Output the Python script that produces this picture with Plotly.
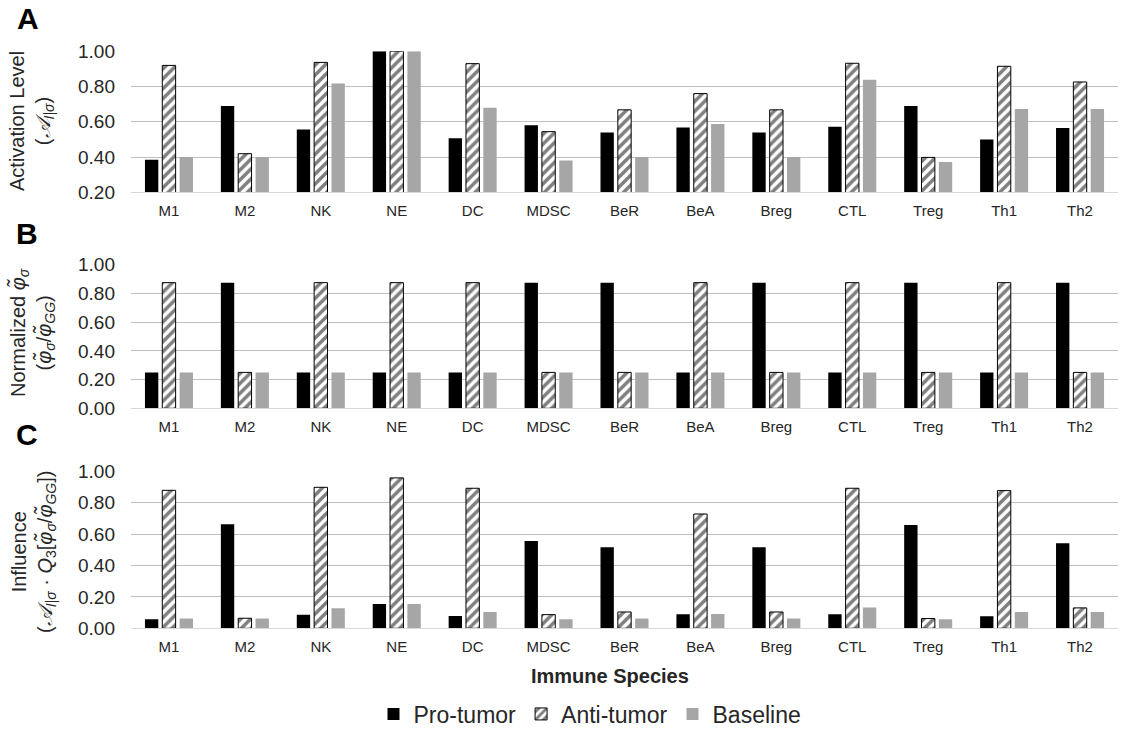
import plotly.graph_objects as go

categories = ["M1", "M2", "NK", "NE", "DC", "MDSC", "BeR", "BeA", "Breg", "CTL", "Treg", "Th1", "Th2"]

# Panel A: Activation level
a_pro = [0.385, 0.69, 0.557, 1.00, 0.506, 0.58, 0.54, 0.568, 0.54, 0.572, 0.69, 0.50, 0.565]
a_anti = [0.92, 0.419, 0.937, 1.00, 0.93, 0.544, 0.668, 0.76, 0.668, 0.932, 0.398, 0.915, 0.826]
a_base = [0.40, 0.40, 0.818, 1.00, 0.68, 0.38, 0.40, 0.587, 0.40, 0.839, 0.372, 0.672, 0.672]

# Panel B: Normalized phi
b_pro = [0.25, 0.875, 0.25, 0.25, 0.25, 0.875, 0.875, 0.25, 0.875, 0.25, 0.875, 0.25, 0.875]
b_anti = [0.875, 0.25, 0.875, 0.875, 0.875, 0.25, 0.25, 0.875, 0.25, 0.875, 0.25, 0.875, 0.25]
b_base = [0.25] * 13

# Panel C: Influence
c_pro = [0.057, 0.662, 0.087, 0.155, 0.079, 0.556, 0.516, 0.089, 0.516, 0.089, 0.658, 0.076, 0.541]
c_anti = [0.879, 0.064, 0.898, 0.958, 0.892, 0.087, 0.104, 0.728, 0.104, 0.892, 0.062, 0.877, 0.13]
c_base = [0.062, 0.062, 0.127, 0.155, 0.104, 0.057, 0.062, 0.091, 0.062, 0.132, 0.057, 0.104, 0.104]

series_names = ["Pro-tumor", "Anti-tumor", "Baseline"]
y_ticks_a = [0.2, 0.4, 0.6, 0.8, 1.0]
y_ticks_bc = [0.0, 0.2, 0.4, 0.6, 0.8, 1.0]

W, H = 1135, 730
FONT = "Arial, Liberation Sans, sans-serif"
TXT = "#262626"
GRID = "#c0c0c0"
GRAY = "#a6a6a6"


def px_x(p):
    return p / W


def px_y(p):
    return 1 - p / H


fig = go.Figure()

panels = [
    ("x", "y", a_pro, a_anti, a_base, True),
    ("x2", "y2", b_pro, b_anti, b_base, False),
    ("x3", "y3", c_pro, c_anti, c_base, False),
]

for xa, ya, pro, anti, base, show in panels:
    fig.add_trace(go.Bar(x=categories, y=pro, name=series_names[0], xaxis=xa, yaxis=ya,
                         marker=dict(color="black", line=dict(width=0)),
                         legendgroup="pro", showlegend=show))
    fig.add_trace(go.Bar(x=categories, y=anti, name=series_names[1], xaxis=xa, yaxis=ya,
                         marker=dict(color="white", line=dict(color="black", width=1),
                                     pattern=dict(shape="/", fgcolor="black", bgcolor="white",
                                                  size=7, solidity=0.5)),
                         legendgroup="anti", showlegend=show))
    fig.add_trace(go.Bar(x=categories, y=base, name=series_names[2], xaxis=xa, yaxis=ya,
                         marker=dict(color=GRAY, line=dict(width=0)),
                         legendgroup="base", showlegend=show))

x_dom = [px_x(131), px_x(1118)]
y_doms = [
    [px_y(192.3), px_y(51.3)],
    [px_y(408.3), px_y(264.7)],
    [px_y(628.3), px_y(471.3)],
]

xaxis_common = dict(domain=x_dom, showgrid=False, showline=True, linecolor="#d9d9d9", linewidth=1,
                    ticks="", tickfont=dict(size=15, color=TXT, family=FONT),
                    ticklabelstandoff=5, zeroline=False, automargin=False)
yaxis_common = dict(showgrid=True, gridcolor=GRID, gridwidth=1, showline=False, ticks="",
                    tickformat=".2f", tickfont=dict(size=19, color=TXT, family=FONT),
                    ticklabelstandoff=15, zeroline=False, automargin=False)

fig.update_layout(
    xaxis=dict(xaxis_common, anchor="y"),
    xaxis2=dict(xaxis_common, anchor="y2"),
    xaxis3=dict(xaxis_common, anchor="y3"),
    yaxis=dict(yaxis_common, domain=y_doms[0], anchor="x", range=[0.2, 1.0], tickvals=y_ticks_a),
    yaxis2=dict(yaxis_common, domain=y_doms[1], anchor="x2", range=[0, 1.0], tickvals=y_ticks_bc),
    yaxis3=dict(yaxis_common, domain=y_doms[2], anchor="x3", range=[0, 1.0], tickvals=y_ticks_bc),
    barmode="group",
    bargap=0.315,
    bargroupgap=0.23,
    width=W, height=H,
    margin=dict(l=0, r=0, t=0, b=0, autoexpand=False),
    paper_bgcolor="white",
    plot_bgcolor="white",
    font=dict(family=FONT, color=TXT),
    legend=dict(orientation="h", x=px_x(590), y=px_y(714), xanchor="center", yanchor="middle",
                font=dict(size=23, color=TXT, family=FONT), itemwidth=30,
                traceorder="normal", bgcolor="rgba(0,0,0,0)"),
)

annotations = [
    dict(text="<b>A</b>", x=px_x(28), y=px_y(18)),
    dict(text="<b>B</b>", x=px_x(27), y=px_y(233)),
    dict(text="<b>C</b>", x=px_x(27), y=px_y(434)),
]
for a in annotations:
    a.update(xref="paper", yref="paper", showarrow=False, xanchor="center", yanchor="middle",
             font=dict(size=30, color="black", family=FONT))

ytitles = [
    ("Activation Level<br>(<i>𝒜</i><sub><i>I|σ</i></sub>)", 31, 121),
    ("Normalized <i>φ̃</i><sub><i>σ</i></sub><br>(<i>φ̃</i><sub><i>σ</i></sub>/<i>φ̃</i><sub><i>GG</i></sub>)", 32, 333),
    ("Influence<br>(<i>𝒜</i><sub><i>I|σ</i></sub> · <i>Q</i><sub>3</sub>[<i>φ̃</i><sub><i>σ</i></sub>/<i>φ̃</i><sub><i>GG</i></sub>])", 33, 552),
]
for txt, xp, yp in ytitles:
    annotations.append(dict(text=txt, x=px_x(xp), y=px_y(yp), xref="paper", yref="paper",
                            showarrow=False, textangle=-90, xanchor="center", yanchor="middle",
                            font=dict(size=20, color=TXT, family=FONT)))

annotations.append(dict(text="<b>Immune Species</b>", x=px_x(610), y=px_y(676), xref="paper", yref="paper",
                        showarrow=False, xanchor="center", yanchor="middle",
                        font=dict(size=20, color=TXT, family=FONT)))

fig.update_layout(annotations=annotations)

fig.write_html("out.html")
